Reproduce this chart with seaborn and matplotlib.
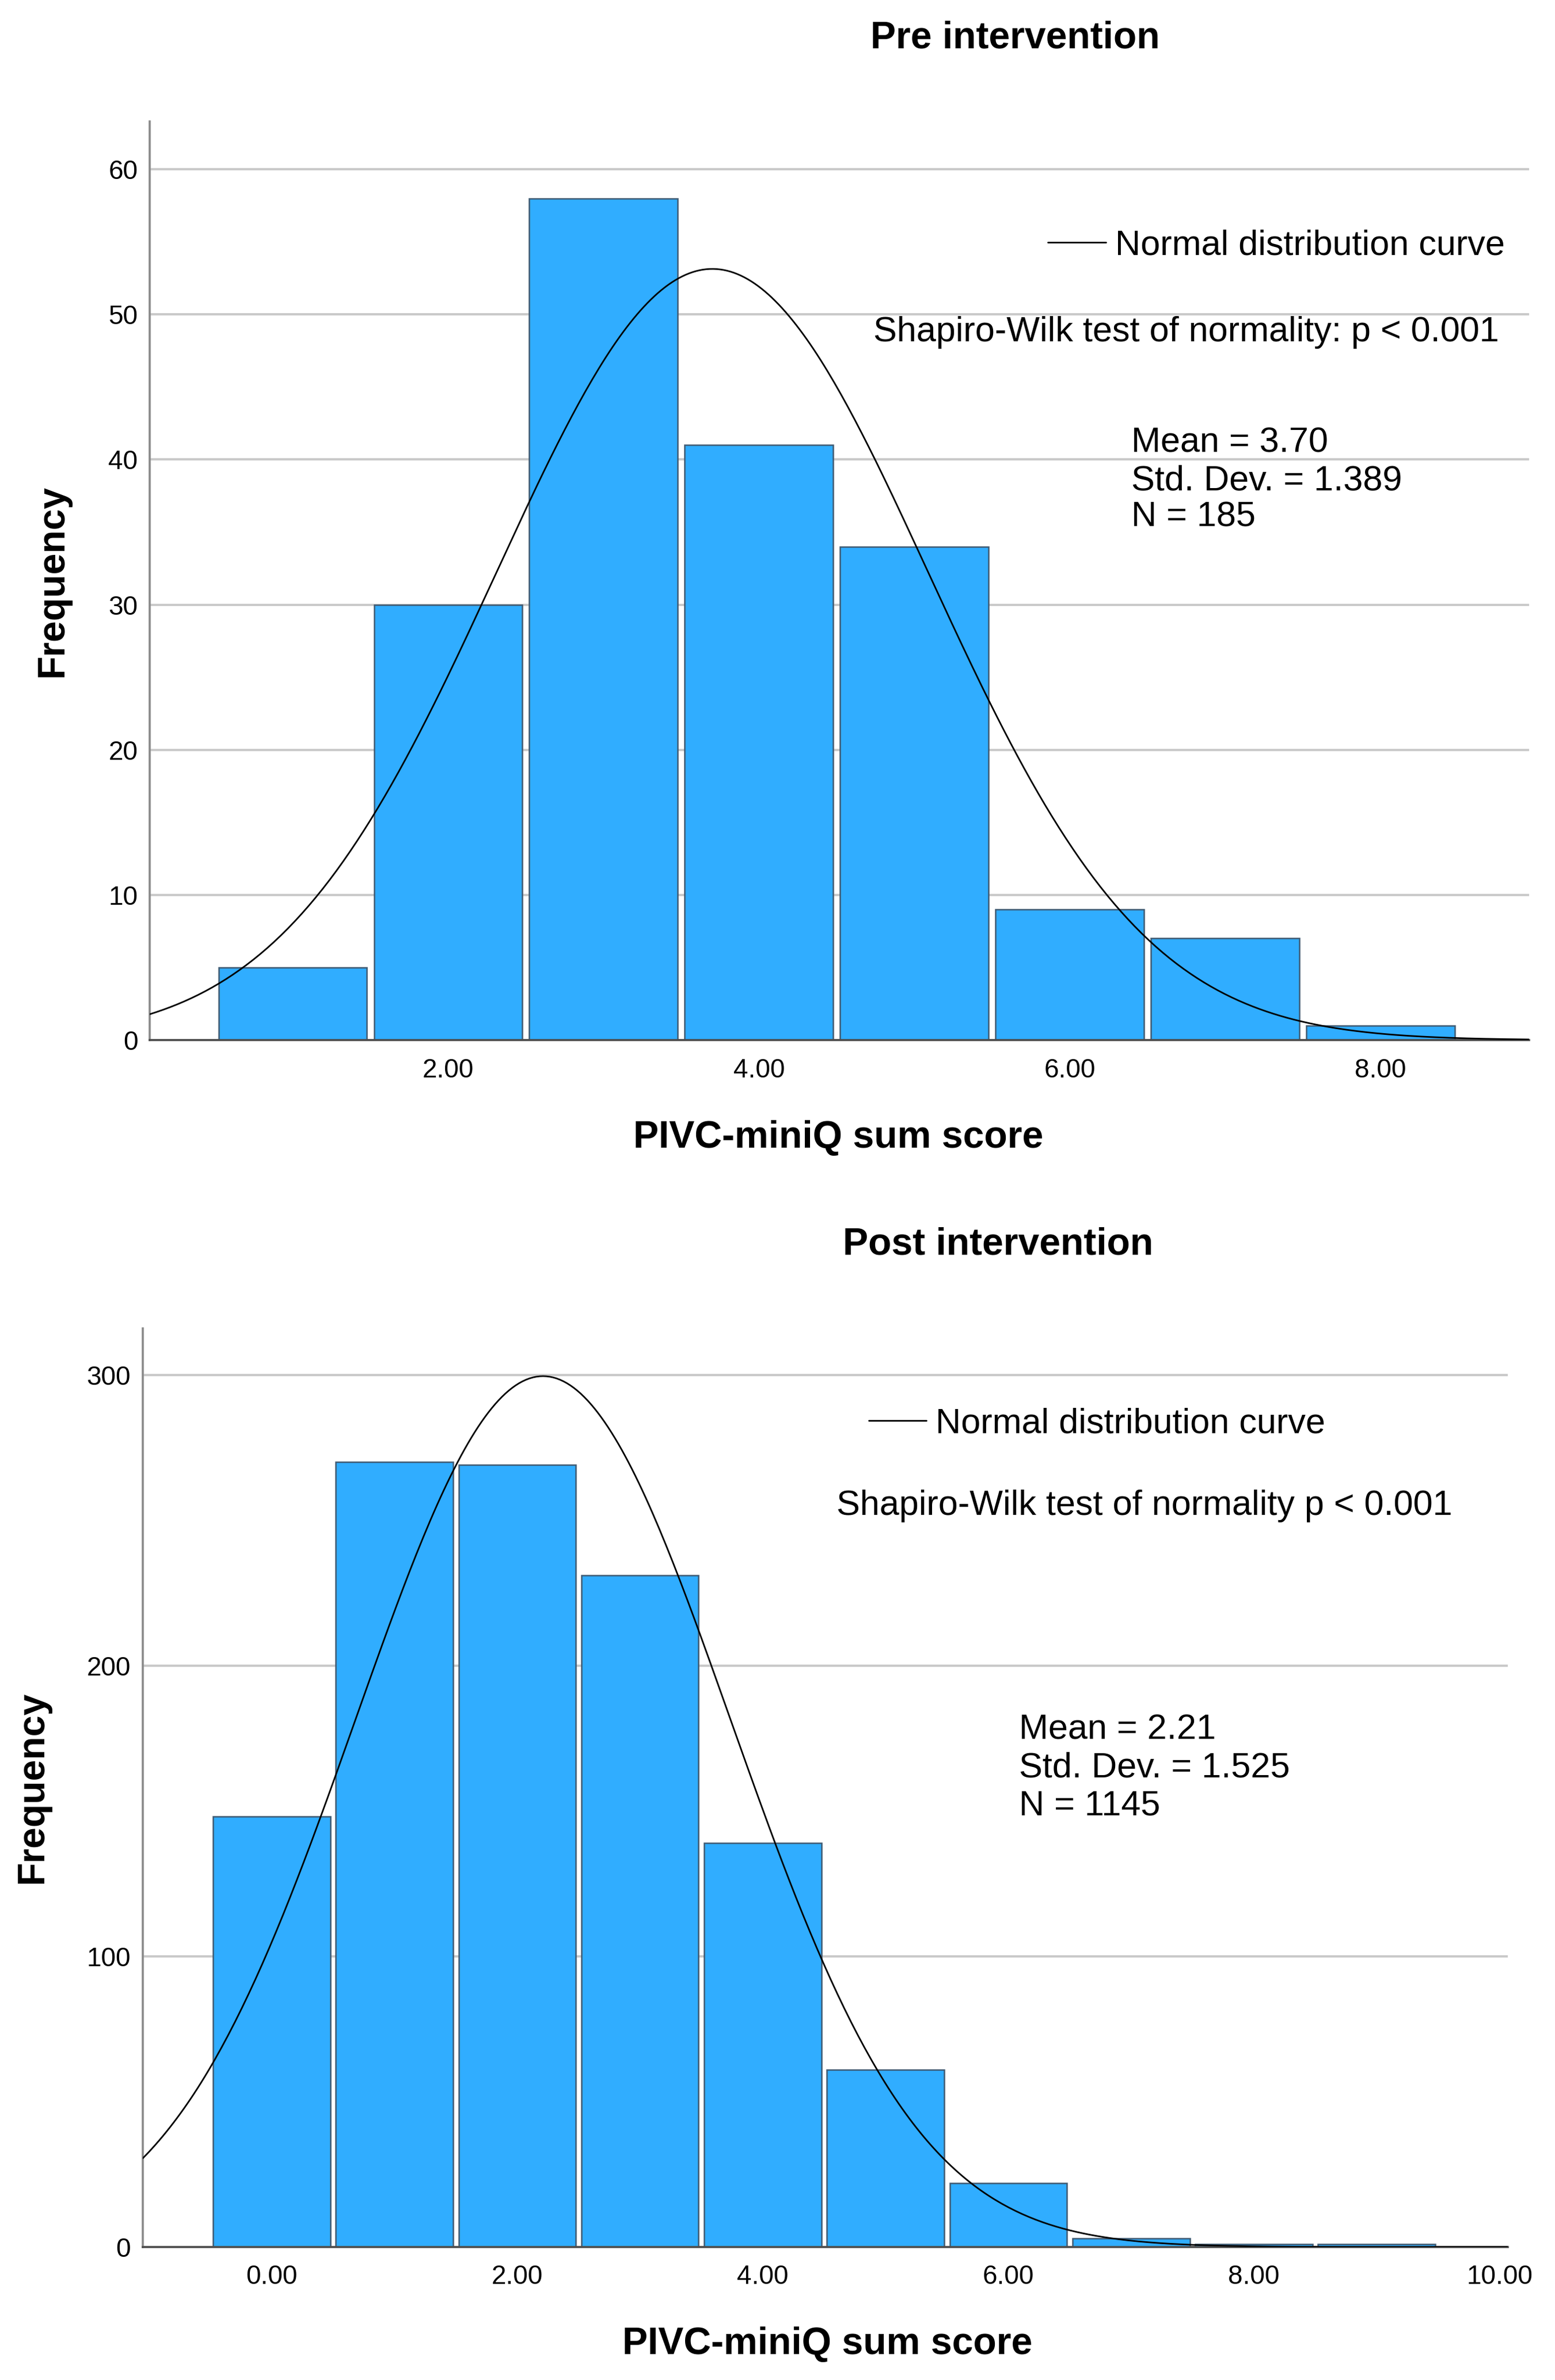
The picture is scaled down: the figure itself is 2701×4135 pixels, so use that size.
import numpy as np
import pandas as pd
import seaborn as sns
import matplotlib.pyplot as plt

# Pre intervention histogram (score -> frequency)
pre_scores = [1, 2, 3, 4, 5, 6, 7, 8]
pre_counts = [5, 30, 58, 41, 34, 9, 7, 1]
pre_mean, pre_sd, pre_n = 3.70, 1.389, 185

# Post intervention histogram
post_scores = [0, 1, 2, 3, 4, 5, 6, 7, 8, 9]
post_counts = [148, 270, 269, 231, 139, 61, 22, 3, 1, 1]
post_mean, post_sd, post_n = 2.21, 1.525, 1145

pre_yticks = [0, 10, 20, 30, 40, 50, 60]
pre_xticks = [2, 4, 6, 8]
post_yticks = [0, 100, 200, 300]
post_xticks = [0, 2, 4, 6, 8, 10]

sns.set_style('white')
plt.rcParams['font.family'] = ['Liberation Sans', 'DejaVu Sans']
plt.rcParams['text.color'] = 'black'
plt.rcParams['xtick.color'] = 'black'
plt.rcParams['ytick.color'] = 'black'

BAR = '#30adff'
EDGE = '#3f5a72'
GRID = '#c9c9c9'

fig = plt.figure(figsize=(27.01, 41.35), dpi=100)
ax1 = fig.add_axes([0.0963, 0.563, 0.887, 0.386])
ax2 = fig.add_axes([0.0918, 0.0559, 0.878, 0.386])


def panel(ax, scores, counts, mean, sd, n, xlim, ylim, xticks, yticks):
    df = pd.DataFrame({'score': scores, 'count': counts})
    sns.histplot(data=df, x='score', weights='count', discrete=True, shrink=0.955,
                 color=BAR, edgecolor=EDGE, linewidth=1.8, alpha=1, ax=ax, zorder=2)
    xs = np.linspace(xlim[0], xlim[1], 400)
    ys = n * np.exp(-0.5 * ((xs - mean) / sd) ** 2) / (sd * np.sqrt(2 * np.pi))
    sns.lineplot(x=xs, y=ys, color='black', linewidth=2.0, ax=ax, zorder=3,
                 label='Normal distribution curve')
    ax.set_xlim(*xlim)
    ax.set_ylim(*ylim)
    ax.set_xticks(xticks)
    ax.set_xticklabels([f'{t:.2f}' for t in xticks])
    ax.set_yticks(yticks)
    ax.set_axisbelow(True)
    ax.yaxis.grid(True, color=GRID, linewidth=2.8)
    ax.xaxis.grid(False)
    for s in ['top', 'right']:
        ax.spines[s].set_visible(False)
    ax.spines['left'].set_color('#8a8a8a')
    ax.spines['left'].set_linewidth(2.6)
    ax.spines['bottom'].set_color('#4d4d4d')
    ax.spines['bottom'].set_linewidth(2.6)
    ax.tick_params(axis='both', length=0, labelsize=33)
    ax.tick_params(axis='y', pad=15)
    ax.tick_params(axis='x', pad=22)
    ax.set_xlabel('')
    ax.set_ylabel('')


panel(ax1, pre_scores, pre_counts, pre_mean, pre_sd, pre_n,
      (0.08, 8.955), (0, 63.3), pre_xticks, pre_yticks)
panel(ax2, post_scores, post_counts, post_mean, post_sd, post_n,
      (-1.05, 10.07), (0, 316), post_xticks, post_yticks)

# legends (curve key)
for ax, (lx, ly) in [(ax1, (0.674, 0.8967)), (ax2, (0.5586, 0.4018))]:
    leg = ax.legend(loc='center left', bbox_to_anchor=(lx, ly), bbox_transform=fig.transFigure,
                    frameon=False, fontsize=44, handlelength=1.64, handletextpad=0.26,
                    borderpad=0, borderaxespad=0)
    for t in leg.get_texts():
        t.set_color('black')

# titles and axis labels
bold = dict(fontsize=47.5, fontweight='bold', ha='center', va='center')
fig.text(0.653, 0.984, 'Pre intervention', **bold)
fig.text(0.642, 0.477, 'Post intervention', **bold)
fig.text(0.539, 0.522, 'PIVC-miniQ sum score', **bold)
fig.text(0.532, 0.015, 'PIVC-miniQ sum score', **bold)
fig.text(0.034, 0.756, 'Frequency', rotation=90, **bold)
fig.text(0.021, 0.249, 'Frequency', rotation=90, **bold)

# annotations
note = dict(fontsize=44, ha='left', va='center')
fig.text(0.5615, 0.8603, 'Shapiro-Wilk test of normality: p < 0.001', **note)
fig.text(0.7275, 0.8138, 'Mean = 3.70', **note)
fig.text(0.7275, 0.7978, 'Std. Dev. = 1.389', **note)
fig.text(0.7275, 0.7825, 'N = 185', **note)

fig.text(0.538, 0.3673, 'Shapiro-Wilk test of normality p < 0.001', **note)
fig.text(0.6553, 0.273, 'Mean = 2.21', **note)
fig.text(0.6553, 0.257, 'Std. Dev. = 1.525', **note)
fig.text(0.6553, 0.241, 'N = 1145', **note)

fig.savefig('out.png', dpi=100, facecolor='white')
